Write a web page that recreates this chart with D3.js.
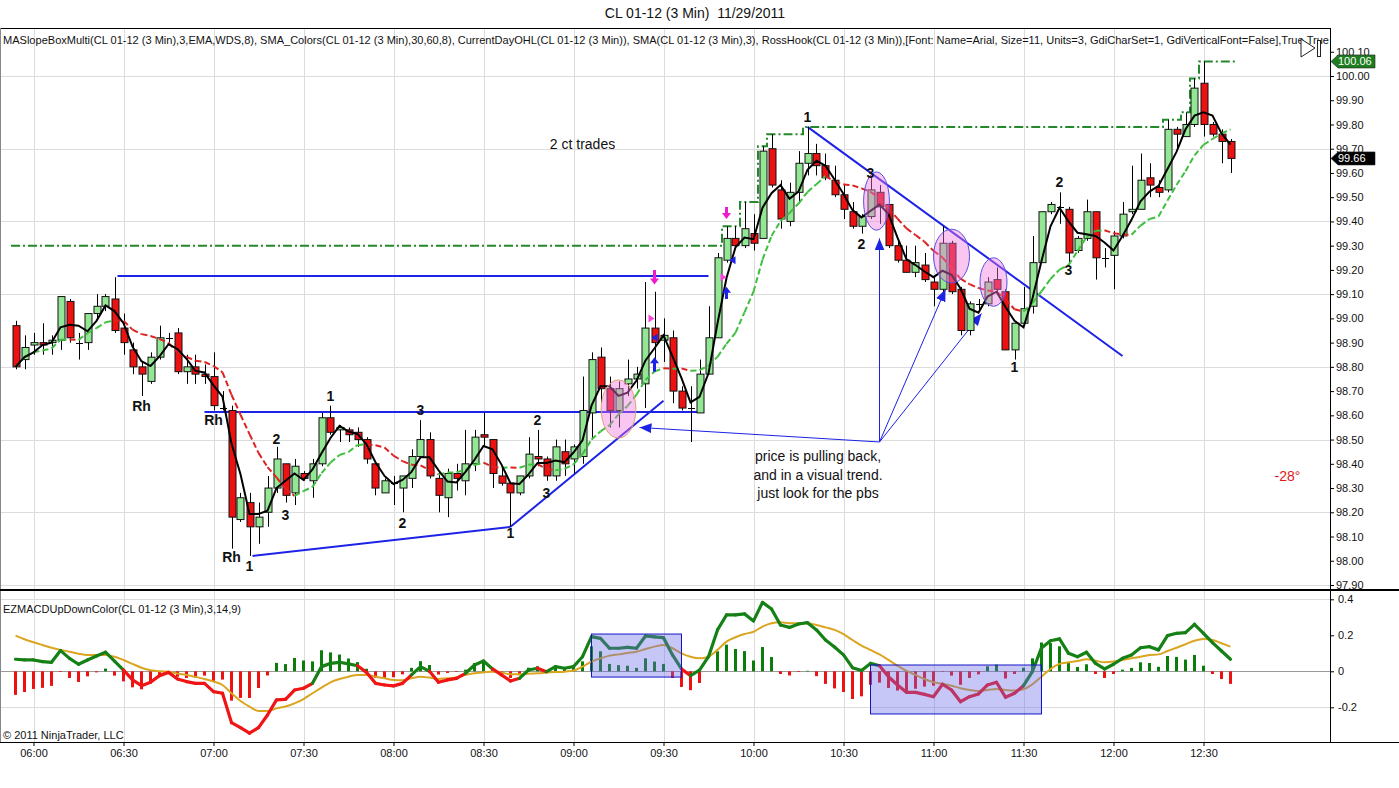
<!DOCTYPE html>
<html>
<head>
<meta charset="utf-8">
<script src="https://cdnjs.cloudflare.com/ajax/libs/d3/7.8.5/d3.min.js"></script>
<style>
  body { margin: 0; background: #fff; }
  svg { display: block; font-family: "Liberation Sans", Arial, sans-serif; }
</style>
</head>
<body>
<svg id="chart" width="1399" height="788"></svg>
<script>
"use strict";

// ---- data ----------------------------------------------------------------
const times = ['05:54','05:57','06:00','06:03','06:06','06:09','06:12','06:15','06:18','06:21','06:24','06:27',
  '06:30','06:33','06:36','06:39','06:42','06:45','06:48','06:51','06:54','06:57','07:00','07:03','07:06','07:09',
  '07:12','07:15','07:18','07:21','07:24','07:27','07:30','07:33','07:36','07:39','07:42','07:45','07:48','07:51',
  '07:54','07:57','08:00','08:03','08:06','08:09','08:12','08:15','08:18','08:21','08:24','08:27','08:30','08:33',
  '08:36','08:39','08:42','08:45','08:48','08:51','08:54','08:57','09:00','09:03','09:06','09:09','09:12','09:15',
  '09:18','09:21','09:24','09:27','09:30','09:33','09:36','09:39','09:42','09:45','09:48','09:51','09:54','09:57',
  '10:00','10:03','10:06','10:09','10:12','10:15','10:18','10:21','10:24','10:27','10:30','10:33','10:36','10:39',
  '10:42','10:45','10:48','10:51','10:54','10:57','11:00','11:03','11:06','11:09','11:12','11:15','11:18','11:21',
  '11:24','11:27','11:30','11:33','11:36','11:39','11:42','11:45','11:48','11:51','11:54','11:57','12:00','12:03',
  '12:06','12:09','12:12','12:15','12:18','12:21','12:24','12:27','12:30','12:33','12:36','12:39'];

const open = [98.97,98.83,98.89,98.90,98.90,98.91,99.07,98.90,98.90,99.02,99.05,99.08,
  98.96,98.87,98.80,98.74,98.84,98.92,98.94,98.78,98.80,98.77,98.76,98.63,98.62,98.17,
  98.24,98.14,98.20,98.30,98.40,98.28,98.36,98.33,98.40,98.59,98.54,98.54,98.53,98.50,
  98.40,98.28,98.32,98.30,98.34,98.43,98.50,98.34,98.26,98.36,98.33,98.40,98.52,98.50,
  98.35,98.32,98.28,98.35,98.43,98.42,98.35,98.45,98.42,98.43,98.61,98.84,98.71,98.62,
  98.73,98.75,98.73,98.96,98.91,98.92,98.70,98.63,98.61,98.77,98.92,99.24,99.33,99.30,
  99.35,99.33,99.70,99.53,99.40,99.52,99.64,99.68,99.63,99.57,99.51,99.44,99.38,99.42,
  99.52,99.47,99.30,99.24,99.19,99.22,99.15,99.12,99.31,99.12,98.95,99.06,99.06,99.16,
  99.11,98.87,98.98,99.05,99.23,99.44,99.46,99.45,99.28,99.33,99.44,99.25,99.26,99.34,
  99.44,99.45,99.58,99.54,99.53,99.78,99.75,99.80,99.97,99.80,99.76,99.73];

const high = [98.99,98.93,98.94,98.98,98.93,99.09,99.08,98.94,99.02,99.10,99.10,99.17,
  99.02,98.90,98.82,98.86,98.97,98.94,98.96,98.85,98.85,98.81,98.86,98.70,98.64,98.28,
  98.28,98.24,98.35,98.47,98.40,98.42,98.37,98.42,98.61,98.64,98.56,98.55,98.55,98.51,
  98.41,98.34,98.35,98.35,98.46,98.58,98.53,98.37,98.38,98.40,98.54,98.54,98.61,98.50,
  98.39,98.32,98.35,98.51,98.54,98.43,98.50,98.50,98.48,98.76,98.86,98.88,98.76,98.74,
  98.83,98.80,99.15,99.11,99.00,98.95,98.72,98.72,98.83,99.05,99.27,99.38,99.38,99.48,
  99.43,99.71,99.76,99.57,99.56,99.69,99.79,99.72,99.68,99.63,99.55,99.48,99.43,99.58,
  99.55,99.47,99.32,99.30,99.30,99.27,99.17,99.38,99.32,99.13,99.07,99.08,99.17,99.21,
  99.12,98.98,99.13,99.34,99.44,99.48,99.52,99.46,99.34,99.49,99.44,99.29,99.36,99.48,
  99.63,99.68,99.64,99.57,99.82,99.79,99.85,99.99,100.06,99.81,99.78,99.74];

const low = [98.79,98.79,98.85,98.85,98.85,98.87,98.90,98.83,98.87,99.00,99.03,98.94,
  98.85,98.77,98.68,98.73,98.83,98.90,98.77,98.73,98.73,98.73,98.62,98.62,98.05,98.16,
  98.02,98.07,98.14,98.28,98.24,98.23,98.33,98.26,98.39,98.52,98.49,98.49,98.47,98.40,
  98.27,98.28,98.23,98.20,98.30,98.42,98.34,98.20,98.18,98.29,98.27,98.37,98.47,98.30,
  98.31,98.14,98.27,98.34,98.39,98.33,98.33,98.35,98.36,98.40,98.50,98.65,98.55,98.55,
  98.68,98.71,98.63,98.83,98.82,98.65,98.62,98.49,98.61,98.77,98.92,99.23,99.29,99.29,
  99.28,99.33,99.54,99.37,99.38,99.48,99.59,99.59,99.57,99.50,99.41,99.37,99.35,99.41,
  99.39,99.29,99.23,99.19,99.17,99.15,99.05,99.11,99.10,98.93,98.93,99.03,99.05,99.10,
  98.87,98.83,98.97,99.02,99.23,99.43,99.39,99.23,99.27,99.32,99.16,99.21,99.12,99.33,
  99.43,99.45,99.50,99.50,99.52,99.70,99.75,99.79,99.75,99.75,99.64,99.60];

const close = [98.80,98.88,98.90,98.89,98.91,99.09,98.92,98.90,99.02,99.05,99.09,98.95,
  98.90,98.80,98.77,98.84,98.92,98.92,98.78,98.80,98.77,98.76,98.64,98.63,98.18,98.26,
  98.14,98.18,98.30,98.42,98.27,98.39,98.34,98.40,98.59,98.53,98.55,98.52,98.50,98.42,
  98.30,98.33,98.32,98.35,98.43,98.50,98.35,98.27,98.36,98.34,98.40,98.51,98.51,98.36,
  98.32,98.28,98.35,98.44,98.42,98.35,98.47,98.40,98.47,98.62,98.83,98.71,98.62,98.71,
  98.75,98.77,98.96,98.90,98.93,98.70,98.63,98.63,98.77,98.92,99.25,99.33,99.30,99.37,
  99.31,99.69,99.55,99.41,99.52,99.64,99.68,99.63,99.58,99.51,99.45,99.38,99.42,99.53,
  99.46,99.30,99.24,99.19,99.23,99.16,99.12,99.31,99.11,98.95,99.06,99.06,99.15,99.12,
  98.87,98.98,99.04,99.23,99.44,99.47,99.46,99.27,99.33,99.44,99.25,99.25,99.34,99.43,
  99.45,99.57,99.55,99.52,99.78,99.76,99.80,99.95,99.80,99.76,99.73,99.66];

// EZMACD line and its signal line, one value per bar
const macd = [0.067,0.063,0.063,0.054,0.05,0.115,0.072,0.039,0.063,0.085,0.106,0.057,
  0.007,-0.048,-0.08,-0.061,-0.024,-0.006,-0.043,-0.057,-0.067,-0.067,-0.113,-0.122,-0.285,-0.313,
  -0.344,-0.313,-0.243,-0.159,-0.156,-0.104,-0.094,-0.067,0.026,0.044,0.05,0.041,0.031,-0.006,
  -0.067,-0.076,-0.081,-0.067,-0.02,0.026,0.0,-0.061,-0.048,-0.039,-0.011,0.035,0.057,0.013,
  -0.02,-0.054,-0.039,0.007,0.017,-0.002,0.026,0.017,0.026,0.081,0.193,0.183,0.128,0.128,
  0.133,0.128,0.196,0.191,0.187,0.091,0.013,-0.024,0.007,0.081,0.23,0.313,0.313,0.319,
  0.28,0.383,0.346,0.257,0.244,0.263,0.27,0.23,0.174,0.135,0.091,0.02,0.004,0.044,
  0.031,-0.03,-0.076,-0.117,-0.117,-0.128,-0.141,-0.072,-0.104,-0.169,-0.141,-0.126,-0.076,-0.061,
  -0.144,-0.122,-0.08,0.0,0.13,0.17,0.18,0.1,0.081,0.106,0.044,0.013,0.039,0.072,
  0.091,0.131,0.137,0.119,0.198,0.211,0.215,0.261,0.211,0.159,0.113,0.067];

const signal = [0.198,0.178,0.161,0.146,0.131,0.119,0.109,0.098,0.091,0.091,0.091,0.081,
  0.063,0.041,0.02,0.006,0,-0.002,-0.013,-0.02,-0.031,-0.043,-0.057,-0.076,-0.122,-0.165,
  -0.196,-0.22,-0.22,-0.206,-0.196,-0.178,-0.154,-0.122,-0.091,-0.061,-0.043,-0.03,-0.02,-0.02,
  -0.03,-0.039,-0.048,-0.05,-0.039,-0.03,-0.035,-0.043,-0.039,-0.035,-0.02,-0.011,-0.006,-0.002,
  -0.007,-0.017,-0.017,-0.013,-0.011,-0.007,-0.004,-0.002,0.004,0.026,0.054,0.072,0.087,0.094,
  0.102,0.109,0.124,0.137,0.146,0.128,0.1,0.081,0.072,0.081,0.119,0.165,0.189,0.207,
  0.22,0.248,0.267,0.272,0.267,0.267,0.267,0.257,0.244,0.23,0.206,0.174,0.143,0.119,
  0.094,0.063,0.031,0.002,-0.02,-0.043,-0.061,-0.069,-0.08,-0.094,-0.104,-0.109,-0.104,-0.098,
  -0.104,-0.107,-0.1,-0.072,-0.03,0.013,0.041,0.05,0.057,0.067,0.059,0.05,0.054,0.063,
  0.072,0.081,0.091,0.094,0.113,0.131,0.15,0.17,0.18,0.174,0.156,0.137];

const priorDayHigh = 99.30;   // session high before the window starts

// tick labels
const priceTicks = [97.90,98.00,98.10,98.20,98.30,98.40,98.50,98.60,98.70,98.80,98.90,
  99.00,99.10,99.20,99.30,99.40,99.50,99.60,99.70,99.80,99.90,100.00,100.10];
const priceGrid = [97.90,98.20,98.50,98.80,99.10,99.40,99.70,100.00];
const macdTicks = [-0.2, 0, 0.2, 0.4];
const macdGrid = [-0.2, 0.4];
const timeTicks = ['06:00','06:30','07:00','07:30','08:00','08:30','09:00','09:30',
  '10:00','10:30','11:00','11:30','12:00','12:30'];

// hand drawn annotations (time, price)
const swingLabels = [
  ['Rh','06:36',98.64],['Rh','07:00',98.58],['Rh','07:06',98.016],
  ['1','07:12',97.98],['1','07:39',98.68],['1','08:39',98.115],['1','10:18',99.83],['1','11:27',98.80],
  ['2','07:21',98.50],['2','08:03',98.156],['2','08:48',98.58],['2','10:36',99.307],['2','11:42',99.563],
  ['3','07:24',98.19],['3','08:09',98.62],['3','08:51',98.28],['3','10:39',99.60],['3','11:45',99.20]
];
const thickLines = [
  ['06:28',99.175,'09:45',99.175],
  ['06:57',98.614,'09:42',98.614],
  ['07:13',98.02,'08:39',98.14],
  ['08:39',98.14,'09:30',98.66],
  ['10:18',99.79,'12:03',98.845]
];
const arrowLines = [
  ['10:42',98.49,'09:22',98.55],
  ['10:42',98.49,'10:42',99.33],
  ['10:42',98.49,'11:04',99.12],
  ['10:42',98.49,'11:16',99.02]
];
const ellipses = [
  {t:'09:15', p:98.626, rx:5.8, ry:0.12, edge:'#e0a070'},
  {t:'10:41', p:99.484, rx:4.3, ry:0.12, edge:'#5a50e0'},
  {t:'11:06', p:99.257, rx:6.0, ry:0.111, edge:'#5a50e0'},
  {t:'11:20', p:99.15, rx:4.5, ry:0.10, edge:'#5a50e0'}
];
const macdBoxes = [
  ['09:06', 0.207, '09:36', -0.032],
  ['10:39', 0.035, '11:36', -0.237]
];

// ---- layout ---------------------------------------------------------------
const svg = d3.select('#chart');
const axisX = 1330;
const priceTop = 28, priceBot = 589, macdTop = 591, macdBot = 742;

const parseT = d3.timeParse('%H:%M');
const T = s => parseT(s);
const minutes = (s, m) => new Date(+parseT(s) + m * 60000);

const x = d3.scaleTime()
  .domain([T(times[0]), T(times[times.length - 1])])
  .range([15.5, 1230.5]);
const barStep = x(T(times[1])) - x(T(times[0]));

const y = d3.scaleLinear().domain([97.9, 100.0]).range([585, 76]);
const ym = d3.scaleLinear().domain([-0.2, 0.4]).range([707.3, 599.3]);

const bars = times.map((t, i) => ({ t: T(t), o: open[i], h: high[i], l: low[i], c: close[i] }));

function sma(arr, n) {
  return arr.map((d, i) => d3.mean(arr.slice(Math.max(0, i - n + 1), i + 1)));
}
const sma3 = sma(close, 3);
const sma8 = sma(close, 8);

let runHi = priorDayHigh;
const dayHigh = high.map(h => (runHi = Math.max(runHi, h)));

const defs = svg.append('defs');
defs.append('clipPath').attr('id', 'clipPrice')
  .append('rect').attr('x', 1).attr('y', priceTop).attr('width', axisX - 1).attr('height', priceBot - priceTop);
defs.append('clipPath').attr('id', 'clipMacd')
  .append('rect').attr('x', 1).attr('y', macdTop).attr('width', axisX - 1).attr('height', macdBot - macdTop);
defs.append('marker').attr('id', 'arrowHead')
  .attr('viewBox', '0 0 12 10').attr('refX', 12).attr('refY', 5)
  .attr('markerWidth', 12).attr('markerHeight', 10)
  .attr('markerUnits', 'userSpaceOnUse').attr('orient', 'auto')
  .append('path').attr('d', 'M0,0L12,5L0,10Z').attr('fill', '#1c22e6');

// ---- grid -----------------------------------------------------------------
const grid = svg.append('g').attr('class', 'grid').attr('stroke', '#dcdcdc').attr('stroke-width', 1);
timeTicks.forEach(t => {
  const gx = Math.round(x(T(t))) + 0.5;
  grid.append('line').attr('x1', gx).attr('x2', gx).attr('y1', priceTop).attr('y2', priceBot);
  grid.append('line').attr('x1', gx).attr('x2', gx).attr('y1', macdTop).attr('y2', macdBot);
});
priceGrid.forEach(p => {
  const gy = Math.round(y(p)) + 0.5;
  grid.append('line').attr('x1', 1).attr('x2', axisX).attr('y1', gy).attr('y2', gy);
});
macdGrid.forEach(v => {
  const gy = Math.round(ym(v)) + 0.5;
  grid.append('line').attr('x1', 1).attr('x2', axisX).attr('y1', gy).attr('y2', gy);
});

// ---- price panel ----------------------------------------------------------
const pricePanel = svg.append('g').attr('clip-path', 'url(#clipPrice)');

// current day high (step line)
const highPts = dayHigh.map((h, i) => [x(bars[i].t) - barStep / 2, h]);
highPts.push([x(bars[bars.length - 1].t) + 6, dayHigh[dayHigh.length - 1]]);
pricePanel.append('path')
  .attr('d', d3.line().x(d => d[0]).y(d => y(d[1])).curve(d3.curveStepAfter)(highPts))
  .attr('fill', 'none').attr('stroke', '#23892a').attr('stroke-width', 2)
  .attr('stroke-dasharray', '9,3,2,3');

// thick blue trend / level lines
pricePanel.append('g').selectAll('line').data(thickLines).enter().append('line')
  .attr('x1', d => x(T(d[0]))).attr('y1', d => y(d[1]))
  .attr('x2', d => x(T(d[2]))).attr('y2', d => y(d[3]))
  .attr('stroke', '#1c22e6').attr('stroke-width', 2);

// thin arrows
pricePanel.append('g').selectAll('line').data(arrowLines).enter().append('line')
  .attr('x1', d => x(T(d[0]))).attr('y1', d => y(d[1]))
  .attr('x2', d => x(T(d[2]))).attr('y2', d => y(d[3]))
  .attr('stroke', '#1c22e6').attr('stroke-width', 1)
  .attr('marker-end', 'url(#arrowHead)');

// candles
const candles = pricePanel.append('g').attr('class', 'candles');
const bodyW = 7;
const cg = candles.selectAll('g').data(bars).enter().append('g');
cg.append('line')
  .attr('x1', d => Math.round(x(d.t)) + 0.5).attr('x2', d => Math.round(x(d.t)) + 0.5)
  .attr('y1', d => y(d.h)).attr('y2', d => y(d.l))
  .attr('stroke', '#000').attr('stroke-width', 1);
cg.each(function (d) {
  const g = d3.select(this);
  const cx = Math.round(x(d.t)) + 0.5;
  if (Math.abs(d.o - d.c) < 0.005) {
    g.append('line').attr('x1', cx - bodyW / 2).attr('x2', cx + bodyW / 2)
      .attr('y1', Math.round(y(d.c)) + 0.5).attr('y2', Math.round(y(d.c)) + 0.5)
      .attr('stroke', '#000');
  } else {
    const top = y(Math.max(d.o, d.c)), bot = y(Math.min(d.o, d.c));
    g.append('rect')
      .attr('x', cx - bodyW / 2).attr('y', top)
      .attr('width', bodyW).attr('height', Math.max(1, bot - top))
      .attr('fill', d.c > d.o ? '#93e693' : '#ee1111')
      .attr('stroke', '#111').attr('stroke-width', 1);
  }
});

// SMA(8) dashed, coloured by slope
const maG = pricePanel.append('g');
for (let i = 1; i < sma8.length; i++) {
  maG.append('line')
    .attr('x1', x(bars[i - 1].t)).attr('y1', y(sma8[i - 1]))
    .attr('x2', x(bars[i].t)).attr('y2', y(sma8[i]))
    .attr('stroke', sma8[i] >= sma8[i - 1] ? '#3fbf3f' : '#dd2222')
    .attr('stroke-width', 2).attr('stroke-dasharray', '6,3');
}

// SMA(3) black
pricePanel.append('path')
  .attr('d', d3.line().x((d, i) => x(bars[i].t)).y(d => y(d))(sma3))
  .attr('fill', 'none').attr('stroke', '#000').attr('stroke-width', 2);

// signal arrows
function blockArrow(cx, yFrom, yTip) {
  const dir = yTip > yFrom ? 1 : -1;
  const hb = yTip - dir * 6;
  return `M${cx - 1.5},${yFrom}L${cx + 1.5},${yFrom}L${cx + 1.5},${hb}L${cx + 4.5},${hb}` +
    `L${cx},${yTip}L${cx - 4.5},${hb}L${cx - 1.5},${hb}Z`;
}
const sigG = pricePanel.append('g');
[['09:27', 99.20, 99.14, '#f01ad0'], ['09:51', 99.46, 99.41, '#f01ad0'],
 ['09:27', 98.78, 98.84, '#1c22e6'], ['09:51', 99.08, 99.13, '#1c22e6']].forEach(a => {
  sigG.append('path').attr('d', blockArrow(x(T(a[0])), y(a[1]), y(a[2]))).attr('fill', a[3]);
});
[['09:26', 99.00, 1, '#ff40e0'], ['09:50', 99.17, 1, '#ff40e0'],
 ['09:27', 98.92, -1, '#1c22e6'], ['09:53', 99.24, -1, '#1c22e6']].forEach(a => {
  const cx = x(T(a[0])), cy = y(a[1]), s = a[2];
  sigG.append('path').attr('d', `M${cx - 3 * s},${cy - 4}L${cx + 3 * s},${cy}L${cx - 3 * s},${cy + 4}Z`)
    .attr('fill', a[3]);
});

// pink ellipses
pricePanel.append('g').selectAll('ellipse').data(ellipses).enter().append('ellipse')
  .attr('cx', d => x(T(d.t))).attr('cy', d => y(d.p))
  .attr('rx', d => x(minutes(d.t, d.rx)) - x(T(d.t)))
  .attr('ry', d => y(d.p - d.ry) - y(d.p))
  .attr('fill', 'rgba(240,120,225,0.42)').attr('stroke', d => d.edge).attr('stroke-width', 1);

// swing labels
pricePanel.append('g').selectAll('text').data(swingLabels).enter().append('text')
  .attr('x', d => x(T(d[1]))).attr('y', d => y(d[2])).attr('dy', '0.35em')
  .attr('text-anchor', 'middle').attr('font-size', 14).attr('font-weight', 'bold')
  .attr('fill', '#111').text(d => d[0]);

// notes
pricePanel.append('text').attr('x', x(T('09:03'))).attr('y', y(99.72)).attr('dy', '0.35em')
  .attr('text-anchor', 'middle').attr('font-size', 14).attr('fill', '#111').text('2 ct trades');
const note = pricePanel.append('text').attr('x', x(minutes('10:21', 0.5))).attr('y', y(98.43))
  .attr('dy', '0.35em').attr('text-anchor', 'middle').attr('font-size', 14).attr('fill', '#111');
['price is pulling back,', 'and in a visual trend.', 'just look for the pbs'].forEach((s, i) => {
  note.append('tspan').attr('x', x(minutes('10:21', 0.5))).attr('dy', i === 0 ? '0.35em' : '1.3em').text(s);
});
pricePanel.append('text').attr('x', x(T('12:58'))).attr('y', y(98.35)).attr('dy', '0.35em')
  .attr('text-anchor', 'middle').attr('font-size', 14).attr('fill', '#e01818').text('-28°');

// indicator caption
pricePanel.append('text').attr('x', 3).attr('y', 44).attr('font-size', 11).attr('fill', '#111')
  .attr('textLength', 1326).attr('lengthAdjust', 'spacingAndGlyphs')
  .text('MASlopeBoxMulti(CL 01-12 (3 Min),3,EMA,WDS,8), SMA_Colors(CL 01-12 (3 Min),30,60,8), CurrentDayOHL(CL 01-12 (3 Min)), SMA(CL 01-12 (3 Min),3), RossHook(CL 01-12 (3 Min)),[Font: Name=Arial, Size=11, Units=3, GdiCharSet=1, GdiVerticalFont=False],True,True');

// play / pause style icon
svg.append('path').attr('d', 'M1301,39L1315,48L1301,57Z').attr('fill', '#fff').attr('stroke', '#222');
svg.append('rect').attr('x', 1317.5).attr('y', 40.5).attr('width', 3).attr('height', 16)
  .attr('fill', '#fff').attr('stroke', '#222');

// ---- MACD panel -----------------------------------------------------------
const macdPanel = svg.append('g').attr('clip-path', 'url(#clipMacd)');
macdPanel.append('line').attr('x1', 1).attr('x2', axisX)
  .attr('y1', Math.round(ym(0)) + 0.5).attr('y2', Math.round(ym(0)) + 0.5)
  .attr('stroke', '#9a9a9a').attr('stroke-width', 1);

const hist = macd.map((m, i) => m - signal[i]);
macdPanel.append('g').selectAll('rect').data(hist).enter().append('rect')
  .attr('x', (d, i) => x(bars[i].t) - 1.5)
  .attr('y', d => ym(Math.max(0, d)))
  .attr('width', 3)
  .attr('height', d => Math.abs(ym(d) - ym(0)))
  .attr('fill', d => d >= 0 ? '#0a7d0a' : '#ee1111');

macdPanel.append('path')
  .attr('d', d3.line().x((d, i) => x(bars[i].t)).y(d => ym(d)).curve(d3.curveMonotoneX)(signal))
  .attr('fill', 'none').attr('stroke', '#daa520').attr('stroke-width', 2);

const mg = macdPanel.append('g');
for (let i = 1; i < macd.length; i++) {
  mg.append('line')
    .attr('x1', x(bars[i - 1].t)).attr('y1', ym(macd[i - 1]))
    .attr('x2', x(bars[i].t)).attr('y2', ym(macd[i]))
    .attr('stroke', macd[i] >= 0 ? '#158015' : '#f01414')
    .attr('stroke-width', 3.2).attr('stroke-linecap', 'round');
}

macdPanel.append('g').selectAll('rect').data(macdBoxes).enter().append('rect')
  .attr('x', d => x(T(d[0]))).attr('y', d => ym(d[1]))
  .attr('width', d => x(T(d[2])) - x(T(d[0])))
  .attr('height', d => ym(d[3]) - ym(d[1]))
  .attr('fill', 'rgba(105,105,235,0.38)').attr('stroke', '#1515c8').attr('stroke-width', 1);

macdPanel.append('text').attr('x', 3).attr('y', 613).attr('font-size', 11).attr('fill', '#111')
  .text('EZMACDUpDownColor(CL 01-12 (3 Min),3,14,9)');
macdPanel.append('text').attr('x', 3).attr('y', 739).attr('font-size', 11).attr('fill', '#111')
  .text('\u00a9 2011 NinjaTrader, LLC');

// ---- frame and axes -------------------------------------------------------
const frame = svg.append('g').attr('stroke', '#000').attr('fill', 'none');
frame.append('line').attr('x1', 0).attr('x2', axisX).attr('y1', priceTop + 0.5).attr('y2', priceTop + 0.5);
frame.append('line').attr('x1', axisX + 0.5).attr('x2', axisX + 0.5).attr('y1', priceTop).attr('y2', macdBot);
frame.append('line').attr('x1', 0.5).attr('x2', 0.5).attr('y1', priceTop).attr('y2', macdBot).attr('stroke', '#888');
frame.append('rect').attr('x', 0).attr('y', priceBot).attr('width', 1399).attr('height', macdTop - priceBot)
  .attr('fill', '#000').attr('stroke', 'none');
frame.append('line').attr('x1', 0).attr('x2', 1399).attr('y1', macdBot + 0.5).attr('y2', macdBot + 0.5);

function styleAxis(g) {
  g.select('.domain').remove();
  g.selectAll('text').attr('font-size', 11).attr('fill', '#111')
    .attr('font-family', '"Liberation Sans", Arial, sans-serif');
  g.selectAll('line').attr('stroke', '#000');
}

svg.append('g').attr('transform', `translate(${axisX},0)`)
  .call(d3.axisRight(y).tickValues(priceTicks).tickFormat(d3.format('.2f')).tickSize(4).tickPadding(2))
  .call(styleAxis);

svg.append('g').attr('transform', `translate(${axisX},0)`)
  .call(d3.axisRight(ym).tickValues(macdTicks).tickFormat(d => String(+d.toFixed(1))).tickSize(4).tickPadding(4))
  .call(styleAxis);

svg.append('g').attr('transform', `translate(0,${macdBot})`)
  .call(d3.axisBottom(x).tickValues(timeTicks.map(T)).tickFormat(d3.timeFormat('%H:%M')).tickSize(4).tickPadding(3))
  .call(styleAxis);

// right-axis value markers
function axisMarker(p, fill, label) {
  const cy = y(p);
  svg.append('path')
    .attr('d', `M${axisX + 1},${cy}L${axisX + 8},${cy - 6.5}L${axisX + 45},${cy - 6.5}L${axisX + 45},${cy + 6.5}L${axisX + 8},${cy + 6.5}Z`)
    .attr('fill', fill).attr('stroke', '#222').attr('stroke-width', 0.6);
  svg.append('text').attr('x', axisX + 8).attr('y', cy).attr('dy', '0.36em')
    .attr('font-size', 11).attr('fill', '#fff').text(label);
}
axisMarker(d3.max(high), '#1e7d1e', d3.format('.2f')(d3.max(high)));
axisMarker(close[close.length - 1], '#000', d3.format('.2f')(close[close.length - 1]));

// title
svg.append('text').attr('x', 695).attr('y', 13).attr('dy', '0.35em').attr('text-anchor', 'middle')
  .attr('font-size', 14).attr('fill', '#111').text('CL 01-12 (3 Min)\u00a0\u00a011/29/2011');
</script>
</body>
</html>
